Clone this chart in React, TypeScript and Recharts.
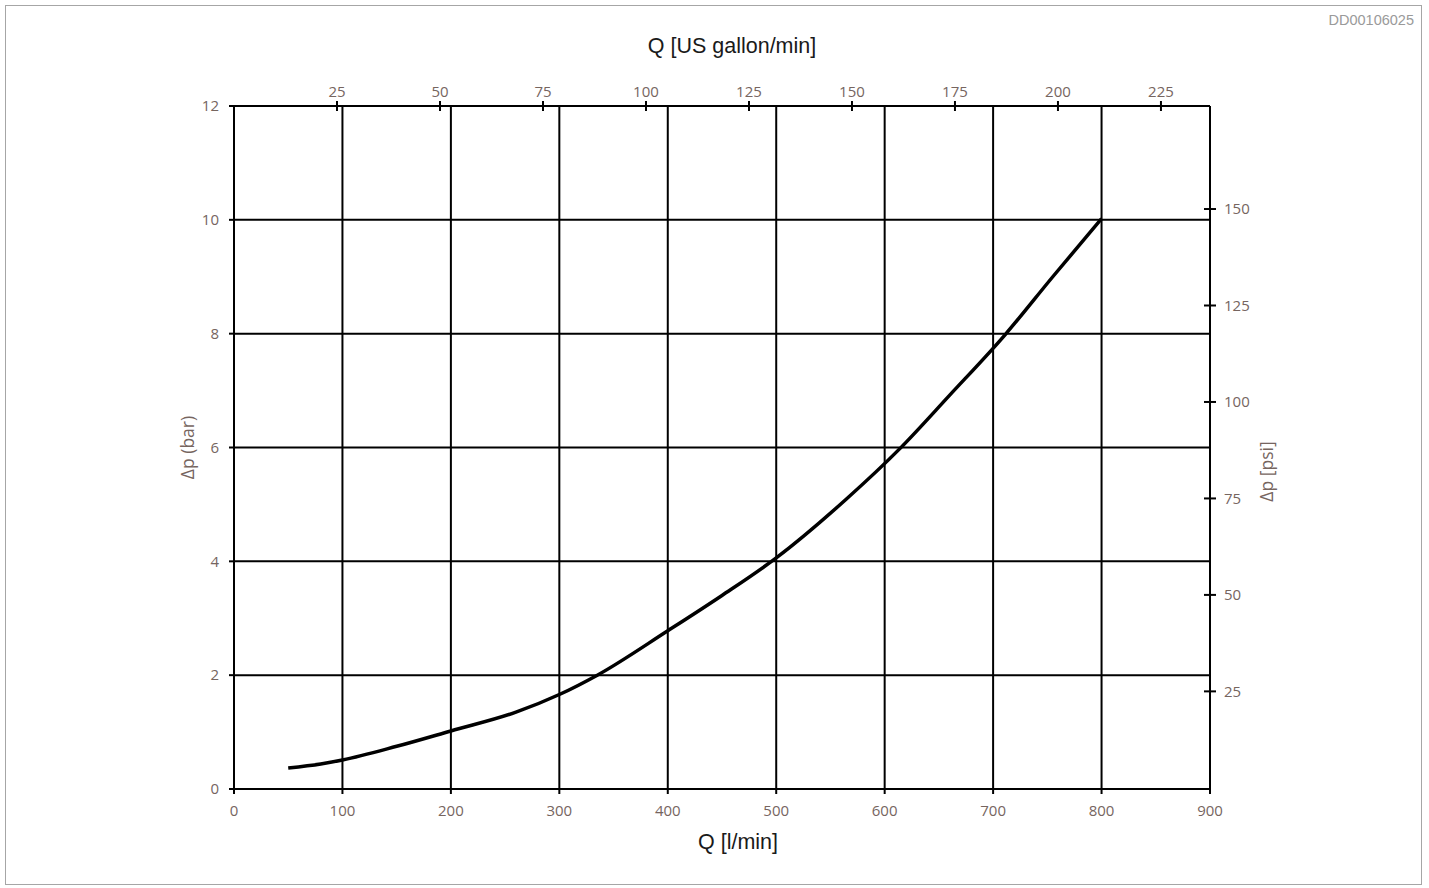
import React from 'react';
import { LineChart, Line, XAxis, YAxis, CartesianGrid, Label } from 'recharts';

const flowLpm = [50, 80, 100, 150, 200, 260, 300, 335, 400, 450, 500, 565, 614, 660, 711, 755, 800];
const dpBar = [0.37, 0.44, 0.51, 0.75, 1.02, 1.35, 1.66, 2.0, 2.78, 3.4, 4.06, 5.1, 5.98, 6.92, 7.98, 9.0, 10.02];

const lpmTicks = [0, 100, 200, 300, 400, 500, 600, 700, 800, 900];
const gpmTicks = [25, 50, 75, 100, 125, 150, 175, 200, 225];
const barTicks = [0, 2, 4, 6, 8, 10, 12];
const psiTicks = [25, 50, 75, 100, 125, 150];

// l/min per US gallon/min as drawn on the reference's top scale
const LPM_PER_GPM = 3.799;

const data = flowLpm.map((q, i) => ({ q, dp: dpBar[i] }));
const gpmTickPositions = gpmTicks.map((g) => g * LPM_PER_GPM);

const TICK_COLOR = '#76655f';
const TICK_FONT = "'Open Sans', 'Noto Sans', sans-serif";
const TITLE_FONT = "'Liberation Sans', Arial, sans-serif";

const TopTick = (props: any) => {
  const { x, y, payload } = props;
  return (
    <g>
      <line x1={x} x2={x} y1={y - 5} y2={y + 5} stroke="#000" strokeWidth={2} />
      <text x={x} y={y - 9} textAnchor="middle" fill={TICK_COLOR} fontSize={15} fontFamily={TICK_FONT}>
        {Math.round(payload.value / LPM_PER_GPM)}
      </text>
    </g>
  );
};

const RightTick = (props: any) => {
  const { x, y, payload } = props;
  return (
    <g>
      <line x1={x - 6} x2={x + 6} y1={y} y2={y} stroke="#000" strokeWidth={2} />
      <text x={x + 14} y={y} dy="0.35em" textAnchor="start" fill={TICK_COLOR} fontSize={15} fontFamily={TICK_FONT}>
        {payload.value}
      </text>
    </g>
  );
};

export default function App() {
  return (
    <div
      style={{
        position: 'absolute',
        left: 5,
        top: 5,
        width: 1417,
        height: 880,
        border: '1px solid #a6a6a6',
        boxSizing: 'border-box',
        background: '#fff',
      }}
    >
      <div
        style={{
          position: 'absolute',
          right: 7,
          top: 6,
          color: '#9a9a9a',
          fontFamily: TITLE_FONT,
          fontSize: 14.5,
        }}
      >
        DD00106025
      </div>
      <div style={{ position: 'absolute', left: -1, top: -1 }}>
        <LineChart width={1417} height={880} data={data} margin={{ top: 0, right: 0, bottom: 0, left: 0 }}>
          <CartesianGrid xAxisId="lpm" yAxisId="bar" stroke="#000" strokeWidth={2} />
          <XAxis
            xAxisId="lpm"
            dataKey="q"
            type="number"
            orientation="bottom"
            domain={[0, 900]}
            ticks={lpmTicks}
            height={96}
            interval={0}
            axisLine={{ stroke: '#000', strokeWidth: 2 }}
            tickLine={{ stroke: '#000', strokeWidth: 2 }}
            tickSize={5}
            tickMargin={11}
            tick={{ fill: TICK_COLOR, fontSize: 15, fontFamily: TICK_FONT }}
          >
            <Label
              value="Q [l/min]"
              position="insideTop"
              offset={45}
              dx={16}
              fill="#1a1a1a"
              fontSize={21.5}
              fontFamily={TITLE_FONT}
            />
          </XAxis>
          <XAxis
            xAxisId="gpm"
            dataKey="q"
            type="number"
            orientation="top"
            domain={[0, 900]}
            allowDataOverflow
            ticks={gpmTickPositions}
            height={101}
            interval={0}
            axisLine={{ stroke: '#000', strokeWidth: 2 }}
            tickLine={false}
            tickSize={0}
            tickMargin={0}
            tick={<TopTick />}
          >
            <Label
              value="Q [US gallon/min]"
              position="insideTop"
              offset={33}
              dx={10}
              fill="#1a1a1a"
              fontSize={21.5}
              fontFamily={TITLE_FONT}
            />
          </XAxis>
          <YAxis
            yAxisId="bar"
            type="number"
            orientation="left"
            domain={[0, 12]}
            ticks={barTicks}
            width={229}
            interval={0}
            axisLine={{ stroke: '#000', strokeWidth: 2 }}
            tickLine={{ stroke: '#000', strokeWidth: 2 }}
            tickSize={5}
            tickMargin={10}
            tick={{ fill: TICK_COLOR, fontSize: 15, fontFamily: TICK_FONT }}
          >
            <Label
              value="Δp (bar)"
              position="center"
              angle={-90}
              dx={68}
              fill={TICK_COLOR}
              fontSize={17.5}
              fontFamily={TICK_FONT}
            />
          </YAxis>
          <YAxis
            yAxisId="psi"
            type="number"
            orientation="right"
            domain={[-0.3, 176.7]}
            allowDataOverflow
            ticks={psiTicks}
            width={212}
            interval={0}
            axisLine={{ stroke: '#000', strokeWidth: 2 }}
            tickLine={false}
            tickSize={0}
            tickMargin={0}
            tick={<RightTick />}
          >
            <Label
              value="Δp [psi]"
              position="center"
              angle={-90}
              dx={-49}
              dy={24}
              fill={TICK_COLOR}
              fontSize={17.5}
              fontFamily={TICK_FONT}
            />
          </YAxis>
          <Line
            xAxisId="lpm"
            yAxisId="bar"
            type="monotone"
            dataKey="dp"
            stroke="#000"
            strokeWidth={3.5}
            dot={false}
            activeDot={false}
            isAnimationActive={false}
          />
        </LineChart>
      </div>
    </div>
  );
}
